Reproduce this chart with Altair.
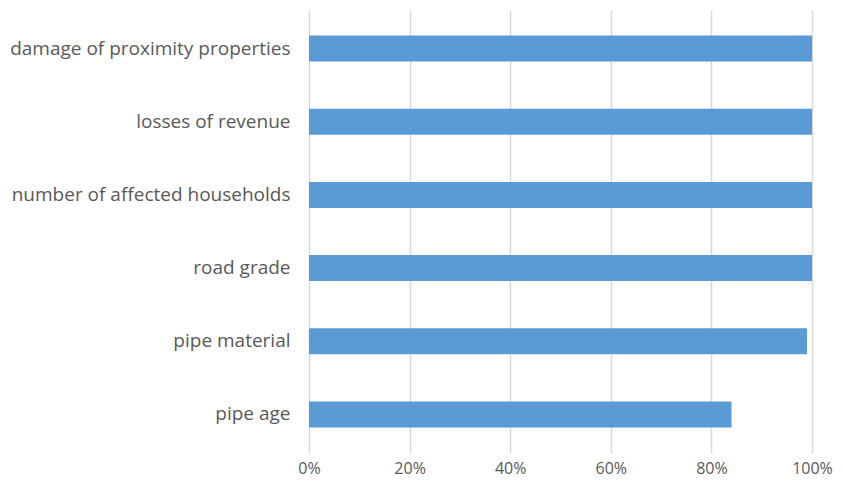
import altair as alt
import pandas as pd

categories = [
    "damage of proximity properties",
    "losses of revenue",
    "number of affected households",
    "road grade",
    "pipe material",
    "pipe age",
]
values = [1.00, 1.00, 1.00, 1.00, 0.99, 0.84]

df = pd.DataFrame({"factor": categories, "share": values})

FONT = "Open Sans"
GRAY = "#595959"

chart = (
    alt.Chart(df)
    .mark_bar(color="#5b9bd5")
    .encode(
        x=alt.X(
            "share:Q",
            scale=alt.Scale(domain=[0, 1], nice=False),
            axis=alt.Axis(
                format="%",
                values=[0, 0.2, 0.4, 0.6, 0.8, 1.0],
                title=None,
                grid=True,
                gridColor="#d9d9d9",
                gridWidth=1.5,
                domain=False,
                ticks=False,
                labelFlush=False,
                labelOverlap=False,
                labelPadding=7,
                labelFont=FONT,
                labelFontSize=16,
                labelColor=GRAY,
            ),
        ),
        y=alt.Y(
            "factor:N",
            sort=categories,
            scale=alt.Scale(paddingInner=0.645, paddingOuter=0.35),
            axis=alt.Axis(
                title=None,
                domain=False,
                ticks=False,
                labelPadding=19,
                labelFont=FONT,
                labelFontSize=19,
                labelColor=GRAY,
                labelLimit=400,
            ),
        ),
    )
    .properties(
        width=503,
        height=443,
        autosize=alt.AutoSizeParams(type="none"),
        padding={"left": 301, "top": 2, "right": 22, "bottom": 31},
    )
    .configure_view(stroke=None)
)

chart.save("out.html", embed_options={"renderer": "svg", "actions": False})
